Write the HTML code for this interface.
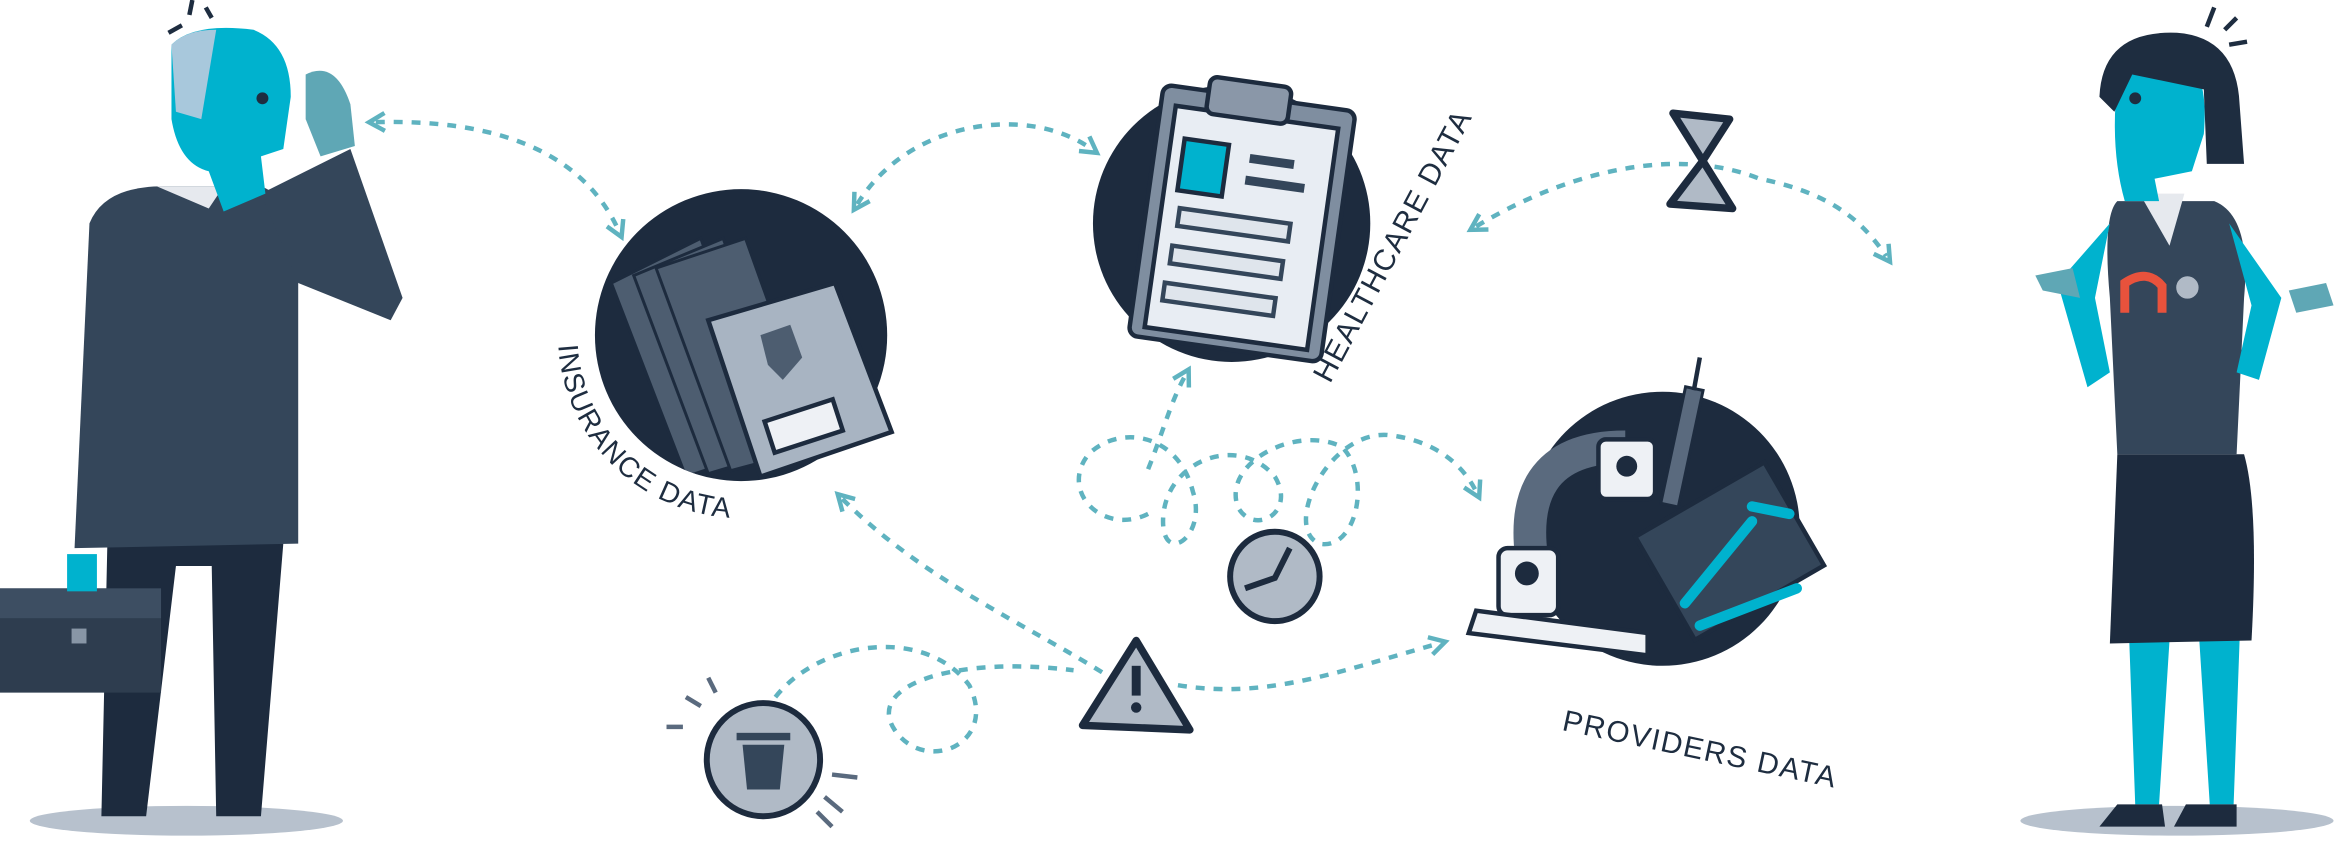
<!DOCTYPE html>
<html><head><meta charset="utf-8"><style>
html,body{margin:0;padding:0;background:#fff;}
svg{display:block;}
text{font-family:"Liberation Sans",sans-serif;fill:#1e2d40;letter-spacing:1px;}
</style></head><body>
<svg width="2338" height="852" viewBox="0 0 1568 572" preserveAspectRatio="none" xmlns="http://www.w3.org/2000/svg">
<defs>
<marker id="ah" viewBox="0 0 10 10" refX="5" refY="5" markerWidth="5" markerHeight="5" orient="auto-start-reverse">
<path d="M1 1 L8 5 L1 9" fill="none" stroke="#5fb3c0" stroke-width="2"/></marker>
<clipPath id="c1"><circle cx="497" cy="225" r="98"/></clipPath>
<path id="insArc" d="M 376 204 A 123 123 0 0 0 518 346"/>
</defs>
<g fill="none" stroke="#5fb3c0" stroke-width="3" stroke-dasharray="6 6">
<path d="M252 82 C330 80 390 100 415 155" marker-start="url(#ah)" marker-end="url(#ah)"/>
<path d="M575 137 C610 80 690 70 732 100" marker-start="url(#ah)" marker-end="url(#ah)"/>
<path d="M990 152 C1060 110 1130 100 1180 120 C1230 130 1250 150 1265 172" marker-start="url(#ah)" marker-end="url(#ah)"/>
<path d="M565 335 C620 390 690 420 745 455"  marker-start="url(#ah)"/>
<path d="M790 460 C850 470 900 450 965 432" marker-end="url(#ah)"/>
<path d="M520 468 C550 430 620 420 650 460 C670 500 620 520 600 490 C580 460 640 440 720 450"/>
<path d="M770 345 C740 360 710 330 730 305 C750 285 790 290 800 330 C810 360 780 380 780 350 C780 310 830 290 855 320 C870 345 840 360 830 340 C820 310 870 285 900 300 C920 320 910 370 885 365 C860 355 890 290 930 292 C960 295 980 310 990 330" marker-end="url(#ah)"/>
<path d="M770 315 C780 290 785 270 795 252" marker-end="url(#ah)"/>
</g>
<!-- left man -->
<ellipse cx="125" cy="551" rx="105" ry="10" fill="#b7c1cd"/>
<path d="M72 365 L68 548 L98 548 L118 380 L142 380 L145 548 L175 548 L190 365 Z" fill="#1d2b3e"/>
<path d="M60 150 Q70 125 110 125 L175 125 Q200 135 200 170 L200 365 L50 368 Z" fill="#34465a"/>
<path d="M175 130 L235 100 L270 200 L262 215 L200 190 Z" fill="#34465a"/>
<path d="M105 125 L140 140 L150 125 Z" fill="#e6e9ee"/>
<path d="M115 30 Q130 15 170 20 Q195 30 195 65 L190 100 L175 105 L178 130 L150 142 L140 115 Q120 110 115 80 Z" fill="#00b2ce"/>
<path d="M115 30 Q125 20 145 20 L135 80 L118 75 Z" fill="#a8c8dc"/>
<circle cx="176" cy="66" r="4" fill="#1e2d40"/>
<path d="M205 50 Q225 40 235 70 L238 98 L215 105 L205 80 Z" fill="#5fa7b5"/>
<rect x="0" y="395" width="108" height="70" fill="#2e3d4f"/>
<rect x="0" y="395" width="108" height="20" fill="#3d4e62"/>
<rect x="48" y="422" width="10" height="10" fill="#8896a6"/>
<rect x="45" y="372" width="20" height="25" fill="#00b2ce"/>
<g stroke="#1e2d40" stroke-width="3"><line x1="113" y1="22" x2="122" y2="17"/><line x1="127" y1="10" x2="129" y2="0"/><line x1="138" y1="5" x2="142" y2="12"/></g>
<!-- right woman -->
<ellipse cx="1460" cy="551" rx="105" ry="10" fill="#b7c1cd"/>
<path d="M1428 430 L1432 540 L1448 540 L1455 430 Z M1475 430 L1482 540 L1498 540 L1502 430 Z" fill="#00b2ce"/>
<path d="M1420 540 L1450 540 L1452 555 L1408 555 Z M1466 540 L1500 540 L1500 555 L1458 555 Z" fill="#1d2b3e"/>
<path d="M1420 305 L1505 305 Q1515 340 1510 430 L1415 432 Z" fill="#1d2b3e"/>
<path d="M1420 135 L1485 135 Q1510 145 1505 200 L1500 305 L1420 305 L1415 200 Q1410 145 1420 135 Z" fill="#34465a"/>
<path d="M1415 150 L1380 190 L1400 260 L1415 250 L1405 200 Z M1495 150 L1530 200 L1515 255 L1500 250 L1510 205 Z" fill="#00b2ce"/>
<path d="M1365 185 L1390 180 L1395 200 L1370 195 Z M1535 195 L1560 190 L1565 205 L1540 210 Z" fill="#5fa7b5"/>
<path d="M1435 130 L1465 130 L1455 165 Z" fill="#e6e9ee"/>
<path d="M1420 55 Q1430 35 1460 35 Q1482 45 1478 90 L1470 115 L1445 120 L1448 135 L1425 135 Q1415 100 1420 55 Z" fill="#00b2ce"/>
<path d="M1408 65 Q1410 20 1460 22 Q1500 25 1502 70 L1505 110 L1480 110 L1478 60 L1430 50 L1418 75 Z" fill="#1e2d40"/>
<circle cx="1432" cy="66" r="4" fill="#1e2d40"/>
<path d="M1425 210 L1425 190 Q1440 180 1450 192 L1450 210" fill="none" stroke="#e8523c" stroke-width="6"/>
<circle cx="1467" cy="193" r="9" fill="#b0bac6" stroke="#34465a" stroke-width="3"/>
<g stroke="#1e2d40" stroke-width="3"><line x1="1480" y1="18" x2="1485" y2="5"/><line x1="1492" y1="20" x2="1500" y2="12"/><line x1="1495" y1="30" x2="1507" y2="28"/></g>
<!-- insurance circle -->
<circle cx="497" cy="225" r="98" fill="#1d2b3e"/>
<g clip-path="url(#c1)">
<g fill="#4d5d70" stroke="#1d2b3e" stroke-width="2">
<path d="M410 190 L470 160 L520 300 L460 320 Z"/>
<path d="M425 185 L485 160 L535 300 L475 318 Z"/>
<path d="M440 180 L500 160 L550 300 L490 316 Z"/></g></g>
<path d="M475 215 L560 190 L598 290 L510 320 Z" fill="#a8b4c2" stroke="#1d2b3e" stroke-width="3"/>
<path d="M510 225 L530 218 L538 240 L525 255 L515 245 Z" fill="#4d5d70"/>
<rect x="515" y="275" width="48" height="22" fill="#eef1f5" stroke="#1d2b3e" stroke-width="3" transform="rotate(-18 539 286)"/>
<text font-size="19"><textPath href="#insArc" startOffset="50%" text-anchor="middle">INSURANCE DATA</textPath></text>
<!-- healthcare -->
<circle cx="826" cy="150" r="93" fill="#1d2b3e"/>
<rect x="768" y="65" width="130" height="170" rx="6" fill="#7f8ea0" transform="rotate(8 833 150)" stroke="#1d2b3e" stroke-width="3"/>
<rect x="778" y="78" width="110" height="150" fill="#e8edf3" transform="rotate(8 833 150)" stroke="#1d2b3e" stroke-width="3"/>
<rect x="810" y="55" width="55" height="25" rx="5" fill="#8a97a8" stroke="#1d2b3e" stroke-width="3" transform="rotate(8 838 68)"/>
<rect x="792" y="95" width="30" height="35" fill="#00b2ce" stroke="#1d2b3e" stroke-width="3" transform="rotate(8 807 112)"/>
<g fill="#34465a"><rect x="838" y="105" width="30" height="6" transform="rotate(8 850 108)"/><rect x="835" y="120" width="40" height="6" transform="rotate(8 850 123)"/>
<rect x="790" y="145" width="75" height="12" fill="#dfe5ec" stroke="#34465a" stroke-width="3" transform="rotate(8 828 151)"/>
<rect x="785" y="170" width="75" height="12" fill="#dfe5ec" stroke="#34465a" stroke-width="3" transform="rotate(8 822 176)"/>
<rect x="780" y="195" width="75" height="12" fill="#dfe5ec" stroke="#34465a" stroke-width="3" transform="rotate(8 818 201)"/></g>
<text transform="translate(892,258) rotate(-62)" font-size="20">HEALTHCARE DATA</text>
<!-- providers -->
<circle cx="1115" cy="355" r="92" fill="#1d2b3e"/>
<path d="M1030 390 Q1010 300 1090 300" fill="none" stroke="#5a6a7e" stroke-width="22"/>
<rect x="1005" y="368" width="40" height="45" rx="6" fill="#eef1f5" stroke="#1d2b3e" stroke-width="3"/>
<circle cx="1024" cy="385" r="8" fill="#1d2b3e"/>
<rect x="1072" y="295" width="38" height="40" rx="5" fill="#eef1f5" stroke="#1d2b3e" stroke-width="3"/>
<circle cx="1091" cy="313" r="7" fill="#1d2b3e"/>
<path d="M990 410 L1105 425 L1105 440 L985 425 Z" fill="#eef1f5" stroke="#1d2b3e" stroke-width="3"/>
<rect x="1110" y="330" width="100" height="80" fill="#34465a" stroke="#1d2b3e" stroke-width="3" transform="rotate(-30 1160 370)"/>
<g stroke="#00b2ce" stroke-width="7" stroke-linecap="round"><line x1="1130" y1="405" x2="1175" y2="350"/><line x1="1140" y1="420" x2="1205" y2="395"/><line x1="1175" y1="340" x2="1200" y2="345"/></g>
<rect x="1122" y="260" width="12" height="80" fill="#5a6a7e" stroke="#1d2b3e" stroke-width="2" transform="rotate(12 1128 300)"/>
<line x1="1140" y1="240" x2="1136" y2="262" stroke="#1d2b3e" stroke-width="3"/>
<text transform="translate(1047,490) rotate(12)" font-size="20">PROVIDERS DATA</text>
<!-- clock -->
<circle cx="855" cy="387" r="30" fill="#b0bac6" stroke="#1d2b3e" stroke-width="4"/>
<path d="M835 395 L855 388 L865 368" fill="none" stroke="#1d2b3e" stroke-width="4"/>
<!-- trash -->
<circle cx="512" cy="510" r="38" fill="#b0bac6" stroke="#1d2b3e" stroke-width="4"/>
<path d="M498 500 L526 500 L523 530 L501 530 Z" fill="#34465a"/>
<rect x="494" y="492" width="36" height="5" fill="#34465a"/>
<g stroke="#5a6a7e" stroke-width="3"><line x1="460" y1="468" x2="470" y2="474"/><line x1="475" y1="455" x2="480" y2="465"/><line x1="447" y1="488" x2="458" y2="488"/><line x1="558" y1="520" x2="575" y2="522"/><line x1="553" y1="535" x2="565" y2="545"/><line x1="548" y1="545" x2="558" y2="555"/></g>
<!-- warning -->
<path d="M762 430 L798 490 L726 487 Z" fill="#b0bac6" stroke="#1d2b3e" stroke-width="5" stroke-linejoin="round"/>
<rect x="759" y="447" width="6" height="20" fill="#1d2b3e"/><circle cx="762" cy="475" r="3.5" fill="#1d2b3e"/>
<!-- hourglass -->
<path d="M1122 76 L1160 80 L1142 108 L1162 140 L1120 137 L1142 108 Z" fill="#b0bac6" stroke="#1d2b3e" stroke-width="5" stroke-linejoin="round"/>
</svg>
</body></html>
